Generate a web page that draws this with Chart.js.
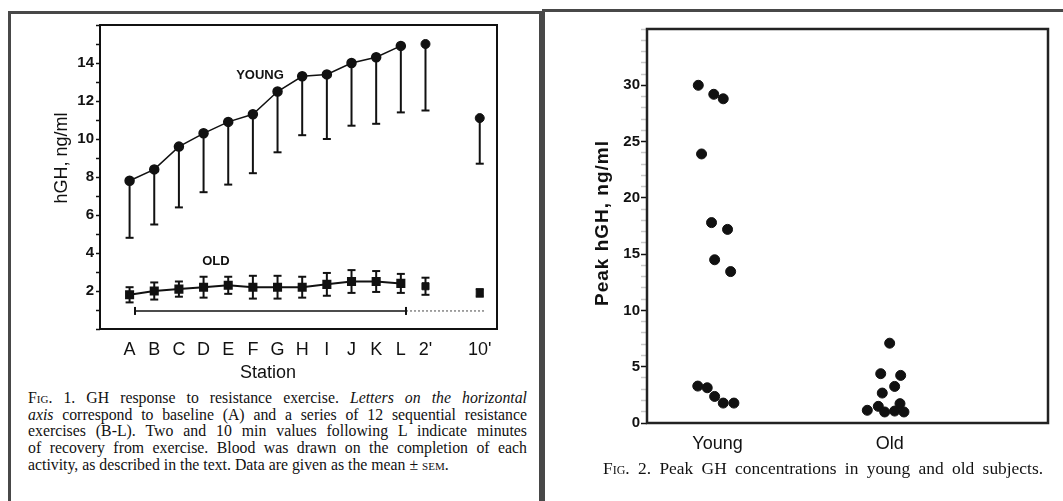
<!DOCTYPE html>
<html>
<head>
<meta charset="utf-8">
<script src="https://cdn.jsdelivr.net/npm/chart.js@4.4.1/dist/chart.umd.min.js"></script>
<style>
    body { margin: 0; width: 1063px; height: 501px; overflow: hidden; background: #fff; position: relative; }
    .frame { position: absolute; border: 3px solid #484848; box-sizing: border-box; }
    #frameLeft { left: 8px; top: 11px; width: 534px; height: 540px; }
    #frameRight { left: 542px; top: 9px; width: 540px; height: 540px; }
    canvas { position: absolute; }
    #chartLeft { left: 10px; top: 14px; }
    #chartRight { left: 546px; top: 12px; }
    .caption { position: absolute; font-family: 'Liberation Serif', 'Times New Roman', serif; color: #111; }
    .caption div { text-align: justify; text-align-last: justify; }
    .caption div.last { text-align-last: left; }
    .sc { font-variant: small-caps; }
    #captionLeft { left: 28px; top: 390px; width: 499px; font-size: 15.8px; line-height: 16.7px; }
    #captionRight { left: 603px; top: 458px; width: 440px; font-size: 17.4px; line-height: 20px; }
</style>
</head>
<body>
<div class="frame" id="frameLeft"></div>
<div class="frame" id="frameRight"></div>
<canvas id="chartLeft" width="528" height="372"></canvas>
<canvas id="chartRight" width="515" height="450"></canvas>

<div class="caption" id="captionLeft">
    <div><span class="sc">Fig.</span> 1. GH response to resistance exercise. <i>Letters on the horizontal</i></div>
    <div><i>axis</i> correspond to baseline (A) and a series of 12 sequential resistance</div>
    <div>exercises (B-L). Two and 10 min values following L indicate minutes</div>
    <div>of recovery from exercise. Blood was drawn on the completion of each</div>
    <div class="last">activity, as described in the text. Data are given as the mean ± <span class="sc">sem</span>.</div>
</div>
<div class="caption" id="captionRight">
    <div><span class="sc">Fig.</span> 2. Peak GH concentrations in young and old subjects.</div>
</div>

<script>
// Fig. 1 - GH response by station
const stations = ['A', 'B', 'C', 'D', 'E', 'F', 'G', 'H', 'I', 'J', 'K', 'L', "2'", "10'"];
const stationX = [1, 2, 3, 4, 5, 6, 7, 8, 9, 10, 11, 12, 13, 15.2];
const youngMean = [7.8, 8.4, 9.6, 10.3, 10.9, 11.3, 12.5, 13.3, 13.4, 14.0, 14.3, 14.9, 15.0, 11.1];
const youngLow = [4.8, 5.5, 6.4, 7.2, 7.6, 8.2, 9.3, 10.2, 10.0, 10.7, 10.8, 11.4, 11.5, 8.7];
const oldMean = [1.8, 2.0, 2.1, 2.2, 2.3, 2.2, 2.2, 2.2, 2.35, 2.5, 2.5, 2.4, 2.25, 1.9];
const oldSem = [0.4, 0.45, 0.4, 0.55, 0.45, 0.6, 0.6, 0.55, 0.6, 0.6, 0.55, 0.5, 0.45, 0.2];
const exerciseBarX = [1.22, 12.21];
const recoveryBarX = [12.21, 15.41];
const periodBarY = 0.95;
const lastExerciseIndex = 12;

// Fig. 2 - peak GH per subject
const groups = ['Young', 'Old'];
const youngPeakX = [0.888, 0.978, 1.033, 0.907, 0.965, 1.058, 0.983, 1.076, 0.885, 0.94, 0.983, 1.033, 1.095];
const youngPeakY = [30.0, 29.2, 28.8, 23.9, 17.8, 17.2, 14.5, 13.45, 3.28, 3.13, 2.36, 1.77, 1.77];
const oldPeakX = [2.0, 1.948, 2.064, 2.029, 1.957, 1.87, 1.934, 1.971, 2.029, 2.06, 2.083];
const oldPeakY = [7.09, 4.38, 4.23, 3.25, 2.66, 1.13, 1.48, 0.98, 1.06, 1.72, 0.98];

const INK = '#111';
const SANS = "'Liberation Sans', Arial, sans-serif";

function toPoints(xs, ys) {
    return xs.map((x, i) => ({x: x, y: ys[i]}));
}

const boxPlugin = {
    id: 'box',
    afterDraw(chart, args, opts) {
        const {ctx, chartArea: a} = chart;
        ctx.save();
        ctx.strokeStyle = opts.color;
        ctx.lineWidth = opts.width;
        ctx.strokeRect(a.left, a.top, a.right - a.left, a.bottom - a.top);
        ctx.restore();
    }
};

const figureText = {
    id: 'figureText',
    afterDraw(chart, args, opts) {
        const {ctx, chartArea: a, scales} = chart;
        opts.items.forEach(t => {
            let px, py;
            if (t.data) {
                px = scales.x.getPixelForValue(t.x);
                py = scales.y.getPixelForValue(t.y);
            } else {
                px = a.left + t.dx;
                py = a.top + t.dy;
            }
            ctx.save();
            ctx.translate(px, py);
            ctx.rotate(t.rotate || 0);
            ctx.font = t.font;
            if (t.spacing) ctx.letterSpacing = t.spacing;
            ctx.fillStyle = INK;
            ctx.textAlign = 'center';
            ctx.textBaseline = 'middle';
            ctx.fillText(t.text, 0, 0);
            ctx.restore();
        });
    }
};

function hLine(ctx, x1, x2, y) {
    ctx.beginPath();
    ctx.moveTo(x1, y);
    ctx.lineTo(x2, y);
    ctx.stroke();
}

const errorBars = {
    id: 'errorBars',
    beforeDatasetsDraw(chart) {
        const {ctx, scales: {x, y}} = chart;
        const cap = 4;
        ctx.save();
        ctx.strokeStyle = INK;
        ctx.lineWidth = 2;
        stationX.forEach((sx, i) => {
            const px = x.getPixelForValue(sx);
            // young: lower whisker only
            const yTop = y.getPixelForValue(youngMean[i]);
            const yLow = y.getPixelForValue(youngLow[i]);
            ctx.beginPath();
            ctx.moveTo(px, yTop);
            ctx.lineTo(px, yLow);
            ctx.stroke();
            hLine(ctx, px - cap, px + cap, yLow);
            // old: mean +/- sem
            const oHi = y.getPixelForValue(oldMean[i] + oldSem[i]);
            const oLo = y.getPixelForValue(oldMean[i] - oldSem[i]);
            ctx.beginPath();
            ctx.moveTo(px, oHi);
            ctx.lineTo(px, oLo);
            ctx.stroke();
            hLine(ctx, px - cap, px + cap, oHi);
            hLine(ctx, px - cap, px + cap, oLo);
        });
        ctx.restore();
    }
};

function initLeftChart() {
    const ctx = document.getElementById('chartLeft').getContext('2d');
    const pointStyleCommon = {borderColor: INK, backgroundColor: INK, pointBackgroundColor: INK, pointBorderColor: INK};
    new Chart(ctx, {
        type: 'scatter',
        data: {
            datasets: [
                Object.assign({
                    label: 'Young',
                    data: toPoints(stationX.slice(0, lastExerciseIndex), youngMean.slice(0, lastExerciseIndex)),
                    showLine: true, borderWidth: 1.5, pointStyle: 'circle', pointRadius: 4.5
                }, pointStyleCommon),
                Object.assign({
                    label: 'Young recovery',
                    data: toPoints(stationX.slice(lastExerciseIndex), youngMean.slice(lastExerciseIndex)),
                    showLine: false, pointStyle: 'circle', pointRadius: 4.5
                }, pointStyleCommon),
                Object.assign({
                    label: 'Old',
                    data: toPoints(stationX.slice(0, lastExerciseIndex), oldMean.slice(0, lastExerciseIndex)),
                    showLine: true, borderWidth: 2, pointStyle: 'rect', pointRadius: 5
                }, pointStyleCommon),
                Object.assign({
                    label: 'Old recovery',
                    data: toPoints(stationX.slice(lastExerciseIndex), oldMean.slice(lastExerciseIndex)),
                    showLine: false, pointStyle: 'rect', pointRadius: 5
                }, pointStyleCommon),
                {
                    label: 'Exercise',
                    data: exerciseBarX.map(x => ({x: x, y: periodBarY})),
                    showLine: true, borderColor: INK, borderWidth: 1.5,
                    pointStyle: 'line', rotation: 90, pointRadius: 4, pointBorderColor: INK, pointBorderWidth: 2
                },
                {
                    label: 'Recovery',
                    data: recoveryBarX.map(x => ({x: x, y: periodBarY})),
                    showLine: true, borderColor: '#666', borderWidth: 1.2, borderDash: [2, 2], pointRadius: 0
                }
            ]
        },
        options: {
            responsive: false,
            animation: false,
            devicePixelRatio: 1,
            layout: {padding: {top: 8, right: 41, left: 0, bottom: 0}},
            scales: {
                x: {
                    type: 'linear',
                    min: -0.2,
                    max: 15.9,
                    afterBuildTicks: axis => { axis.ticks = stationX.map(v => ({value: v})); },
                    afterFit: scale => { scale.height = 57; },
                    ticks: {
                        autoSkip: false, maxRotation: 0, padding: 2, color: INK,
                        font: {family: SANS, size: 18},
                        callback: (value, index) => stations[index]
                    },
                    grid: {display: false},
                    border: {display: false}
                },
                y: {
                    min: 0,
                    max: 16,
                    afterFit: scale => { scale.width = 90; },
                    ticks: {
                        stepSize: 1, autoSkip: false, padding: 2, color: INK,
                        font: {family: SANS, size: 15, weight: 'bold'},
                        callback: v => (v % 2 === 0 && v > 0 && v < 16) ? String(v) : ''
                    },
                    grid: {drawOnChartArea: false, tickLength: 4, tickWidth: 1.5, tickColor: INK},
                    border: {display: false}
                }
            },
            plugins: {
                legend: {display: false},
                tooltip: {enabled: false},
                box: {color: INK, width: 2},
                figureText: {
                    items: [
                        {text: 'YOUNG', data: true, x: 6.29, y: 13.34, font: `bold 13px ${SANS}`},
                        {text: 'OLD', data: true, x: 4.5, y: 3.54, font: `bold 13px ${SANS}`},
                        {text: 'hGH, ng/ml', dx: -38, dy: 133, rotate: -Math.PI / 2, font: `18px ${SANS}`},
                        {text: 'Station', dx: 168, dy: 348, font: `18px ${SANS}`}
                    ]
                }
            }
        },
        plugins: [errorBars, boxPlugin, figureText]
    });
}

function initRightChart() {
    const ctx = document.getElementById('chartRight').getContext('2d');
    new Chart(ctx, {
        type: 'scatter',
        data: {
            datasets: [
                {
                    label: 'Young',
                    data: toPoints(youngPeakX, youngPeakY),
                    pointRadius: 5, pointBackgroundColor: INK, pointBorderColor: INK
                },
                {
                    label: 'Old',
                    data: toPoints(oldPeakX, oldPeakY),
                    pointRadius: 5, pointBackgroundColor: INK, pointBorderColor: INK
                }
            ]
        },
        options: {
            responsive: false,
            animation: false,
            devicePixelRatio: 1,
            layout: {padding: {top: 17, right: 13, left: 0, bottom: 0}},
            scales: {
                x: {
                    type: 'linear',
                    min: 0.59,
                    max: 2.92,
                    afterBuildTicks: axis => { axis.ticks = [1, 2].map(v => ({value: v})); },
                    afterFit: scale => { scale.height = 39; },
                    ticks: {
                        autoSkip: false, maxRotation: 0, padding: 2, color: INK,
                        font: {family: SANS, size: 18},
                        callback: (value, index) => groups[index]
                    },
                    grid: {display: false},
                    border: {display: false}
                },
                y: {
                    min: 0,
                    max: 35,
                    afterFit: scale => { scale.width = 101; },
                    ticks: {
                        stepSize: 1, autoSkip: false, padding: 1, color: INK,
                        font: {family: SANS, size: 15, weight: 'bold'},
                        callback: v => (v % 5 === 0 && v <= 30) ? String(v) : ''
                    },
                    grid: {
                        drawOnChartArea: false, tickLength: 6, tickWidth: 1.5,
                        tickColor: c => (c.tick && c.tick.value % 5 === 0 && c.tick.value <= 30) ? INK : '#c8c8c8'
                    },
                    border: {display: false}
                }
            },
            plugins: {
                legend: {display: false},
                tooltip: {enabled: false},
                box: {color: '#222', width: 2.5},
                figureText: {
                    items: [
                        {text: 'Peak hGH, ng/ml', dx: -44, dy: 194, rotate: -Math.PI / 2, font: `bold 19px ${SANS}`, spacing: '1px'}
                    ]
                }
            }
        },
        plugins: [boxPlugin, figureText]
    });
}

initLeftChart();
initRightChart();
</script>
</body>
</html>
